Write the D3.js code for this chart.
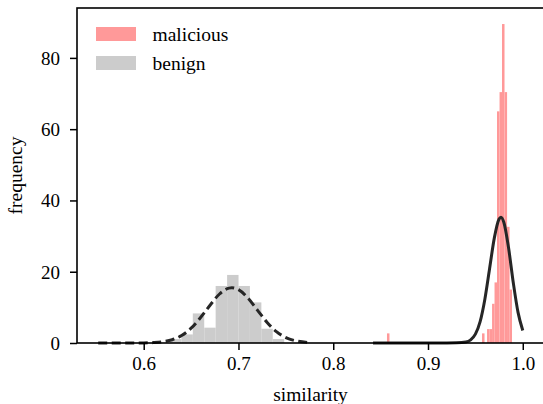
<!DOCTYPE html>
<html>
<head>
  <meta charset="utf-8">
  <style>
    body { margin: 0; background: #fff; }
  </style>
  <script src="https://cdn.jsdelivr.net/npm/d3@7/dist/d3.min.js"></script>
</head>
<body>
<script>
  // histogram bins (left edge) and heights
  const benignBinWidth = 0.01205;
  const benignBinX = [0.6277, 0.6398, 0.6518, 0.6639, 0.6759, 0.6880, 0.7000, 0.7121, 0.7241, 0.7362];
  const benignHeight = [1.1, 2.4, 8.3, 4.3, 16.0, 19.1, 16.0, 11.4, 4.0, 1.1];

  const maliciousBinWidth = 0.00264;
  const maliciousBinX = [0.8567, 0.9570, 0.9596, 0.9623, 0.9649, 0.9676, 0.9702, 0.9728, 0.9755, 0.9781, 0.9808, 0.9834, 0.9860];
  const maliciousHeight = [2.7, 2.7, 0, 3.9, 3.9, 11.0, 17.0, 65.0, 70.4, 89.5, 70.4, 32.6, 15.0];

  // fitted curves
  const benignCurveX = [0.552, 0.58, 0.60, 0.61, 0.62, 0.63, 0.64, 0.65, 0.66, 0.67, 0.68, 0.69, 0.693, 0.70, 0.71, 0.72, 0.73, 0.74, 0.75, 0.76, 0.777];
  const benignCurveY = [0, 0.01, 0.03, 0.12, 0.35, 0.92, 2.1, 4.15, 7.14, 10.6, 13.75, 15.4, 15.5, 14.97, 12.6, 9.22, 5.85, 3.21, 1.53, 0.63, 0.1];

  const maliciousCurveX = [0.842, 0.90, 0.92, 0.93, 0.94, 0.945, 0.95, 0.955, 0.96, 0.965, 0.97, 0.975, 0.977, 0.98, 0.985, 0.99, 0.995, 1.0];
  const maliciousCurveY = [0, 0, 0.01, 0.05, 0.3, 0.9, 2.5, 6.0, 12.3, 20.9, 29.5, 34.8, 35.3, 33.9, 26.7, 16.9, 8.6, 3.5];

  const xTicks = [0.6, 0.7, 0.8, 0.9, 1.0];
  const yTicks = [0, 20, 40, 60, 80];
  const legendLabels = ["malicious", "benign"];

  const W = 543, H = 404;
  const box = {left: 77, top: 8, right: 544, bottom: 343};
  const pink = "#ff9999", grey = "#cccccc", ink = "#262626";
  const serif = "'Liberation Serif'";

  const svg = d3.select("body").append("svg")
      .attr("width", W)
      .attr("height", H)
      .style("font-family", serif);

  const x = d3.scaleLinear().domain([0.5296, 1.0224]).range([box.left, box.right]);
  const y = d3.scaleLinear().domain([0, 94]).range([box.bottom, box.top]);

  // bars
  svg.append("g").selectAll("rect")
      .data(benignBinX.map((b, i) => ({x0: b, h: benignHeight[i]})))
      .enter().append("rect")
        .attr("x", d => x(d.x0))
        .attr("width", d => x(d.x0 + benignBinWidth) - x(d.x0))
        .attr("y", d => y(d.h))
        .attr("height", d => y(0) - y(d.h))
        .attr("fill", grey);

  svg.append("g").selectAll("rect")
      .data(maliciousBinX.map((b, i) => ({x0: b, h: maliciousHeight[i]})))
      .enter().append("rect")
        .attr("x", d => x(d.x0))
        .attr("width", d => x(d.x0 + maliciousBinWidth) - x(d.x0))
        .attr("y", d => y(d.h))
        .attr("height", d => y(0) - y(d.h))
        .attr("fill", pink);

  // curves
  const line = d3.line()
      .x(d => x(d[0]))
      .y(d => y(d[1]))
      .curve(d3.curveMonotoneX);

  svg.append("path")
      .datum(benignCurveX.map((v, i) => [v, benignCurveY[i]]))
      .attr("d", line)
      .attr("fill", "none")
      .attr("stroke", ink)
      .attr("stroke-width", 3)
      .attr("stroke-dasharray", "9,4.5");

  svg.append("path")
      .datum(maliciousCurveX.map((v, i) => [v, maliciousCurveY[i]]))
      .attr("d", line)
      .attr("fill", "none")
      .attr("stroke", ink)
      .attr("stroke-width", 3);

  // axes
  const xAxis = svg.append("g")
      .attr("transform", "translate(0," + box.bottom + ")")
      .call(d3.axisBottom(x).tickValues(xTicks).tickFormat(d3.format(".1f"))
        .tickSize(7).tickPadding(6.5));
  const yAxis = svg.append("g")
      .attr("transform", "translate(" + box.left + ",0)")
      .call(d3.axisLeft(y).tickValues(yTicks).tickSize(7).tickPadding(10));

  [xAxis, yAxis].forEach(g => {
    g.attr("font-family", null).attr("font-size", null);
    g.select(".domain").remove();
    g.selectAll("line").attr("stroke", "#000").attr("stroke-width", 1.5);
    g.selectAll("text").attr("fill", "#000")
      .style("font-family", serif).style("font-size", "19px");
  });
  yAxis.selectAll("text").attr("dy", "0.34em");

  // spines
  svg.append("rect")
      .attr("x", box.left)
      .attr("y", box.top)
      .attr("width", box.right - box.left)
      .attr("height", box.bottom - box.top)
      .attr("fill", "none")
      .attr("stroke", "#000")
      .attr("stroke-width", 1.6);

  // axis labels
  svg.append("text")
      .attr("x", (box.left + box.right) / 2)
      .attr("y", 401)
      .attr("text-anchor", "middle")
      .style("font-family", serif).style("font-size", "19.5px")
      .text("similarity");

  svg.append("text")
      .attr("transform", "translate(22," + ((box.top + box.bottom) / 2) + ") rotate(-90)")
      .attr("text-anchor", "middle")
      .style("font-family", serif).style("font-size", "19.5px")
      .text("frequency");

  // legend
  const legend = svg.append("g");
  [pink, grey].forEach((c, i) => {
    legend.append("rect")
        .attr("x", 96)
        .attr("y", 27 + i * 29)
        .attr("width", 40)
        .attr("height", 14)
        .attr("fill", c);
    legend.append("text")
        .attr("x", 152.5)
        .attr("y", 40.5 + i * 29)
        .style("font-family", serif).style("font-size", "19.5px")
        .text(legendLabels[i]);
  });
</script>
</body>
</html>
